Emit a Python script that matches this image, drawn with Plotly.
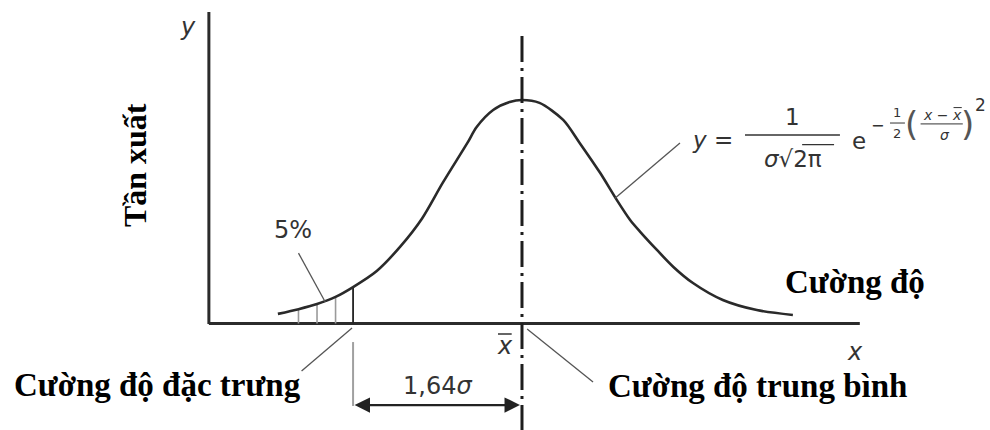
import numpy as np
import plotly.graph_objects as go

# Frequency curve of concrete strength: x measured from the mean in units of sigma,
# y is the relative frequency (peak = 1)
strength = [-2.37, -2.17, -1.99, -1.81, -1.64, -1.41, -1.18, -0.97, -0.77, -0.53,
            -0.44, -0.28, -0.12, 0.0, 0.17, 0.40, 0.56, 0.76, 0.92, 1.05,
            1.15, 1.31, 1.47, 1.66, 1.95, 2.28, 2.63]
frequency = [0.043, 0.064, 0.087, 0.119, 0.163, 0.235, 0.345, 0.470, 0.629, 0.808,
             0.879, 0.955, 0.991, 1.0, 0.987, 0.911, 0.808, 0.673, 0.553, 0.463,
             0.409, 0.329, 0.253, 0.181, 0.105, 0.060, 0.038]

# Hatched 5 % tail below the characteristic strength
hatch_x = [-2.17, -1.99, -1.81, -1.64]
char_strength = -1.64          # mean - 1.64 sigma
mean_strength = 0.0

# Axis extents of the drawing
x_axis_start, x_axis_end = -3.04, 3.28
y_axis_top = 1.394

INK = "#262626"
GREY = "#555555"
SANS = "DejaVu Sans, Verdana, sans-serif"
SERIF = "Liberation Serif, Times New Roman, serif"

fig = go.Figure()

def seg(x, y, color=INK, width=1.2, dash=None):
    fig.add_trace(go.Scatter(x=x, y=y, mode="lines", hoverinfo="skip",
                             line=dict(color=color, width=width, dash=dash)))

# axes
seg([x_axis_start, x_axis_start], [-0.002, y_axis_top], color="#2b2b2b", width=3)
seg([x_axis_start, x_axis_end], [0, 0], color="#2b2b2b", width=3)

# hatch lines under the tail
for i, hx in enumerate(hatch_x):
    h = float(np.interp(hx, strength, frequency))
    last = i == len(hatch_x) - 1
    seg([hx, hx], [0, h], color="#222222" if last else "#9a9a9a", width=1.8 if last else 1.6)

# distribution curve
fig.add_trace(go.Scatter(x=strength, y=frequency, mode="lines", hoverinfo="skip",
                         line=dict(color="#2a2a2a", width=2.6, shape="spline", smoothing=0.8)))

# mean line (dash-dot)
seg([mean_strength, mean_strength], [1.286, -0.48], color="#1e1e1e", width=3,
    dash="26px,6px,3px,6px")

# leader lines
seg([-2.17, -1.91], [0.315, 0.096], color=GREY, width=1.3)          # 5%
seg([-2.14, -1.65], [-0.213, -0.020], color=GREY, width=1.3)        # characteristic
seg([0.05, 0.69], [-0.025, -0.262], color=GREY, width=1.3)          # mean
seg([0.903, 1.534], [0.56, 0.808], color=GREY, width=1.3)           # formula
# extension line at characteristic strength
seg([char_strength, char_strength], [-0.083, -0.369], color="#a0a0a0", width=2)

ann = []

def txt(x, y, s, size, font=SANS, color="#333333", xa="center", ya="middle", angle=0):
    ann.append(dict(x=x, y=y, xref="x", yref="y", text=s, showarrow=False,
                    xanchor=xa, yanchor=ya, textangle=angle,
                    font=dict(family=font, size=size, color=color)))

# dimension arrow mean - characteristic
ann.append(dict(x=mean_strength - 0.02, y=-0.365, ax=char_strength, ay=-0.365,
                xref="x", yref="y", axref="x", ayref="y", text="", showarrow=True,
                arrowhead=2, startarrowhead=2, arrowside="end+start",
                arrowsize=1.4, startarrowsize=1.4, arrowwidth=2.2, arrowcolor="#222222",
                standoff=0, startstandoff=0))

txt(-0.82, -0.28, "1,64<i>σ</i>", 24)
txt(-0.165, -0.10, "<i>x</i>", 24)
txt(3.23, -0.127, "<i>x</i>", 24)
txt(-3.24, 1.327, "<i>y</i>", 24)
txt(-2.22, 0.418, "5%", 24)

# Vietnamese labels
txt(-3.757, 0.709, "<b>Tần xuất</b>", 32, font=SERIF, color="#000000", angle=-90)
txt(-4.95, -0.275, "<b>Cường độ đặc trưng</b>", 33, font=SERIF, color="#000000", xa="left")
txt(0.82, -0.28, "<b>Cường độ trung bình</b>", 33, font=SERIF, color="#000000", xa="left")
txt(2.53, 0.185, "<b>Cường độ</b>", 33, font=SERIF, color="#000000", xa="left")

# formula y = 1/(σ√2π) · e^(-1/2((x - x̄)/σ)^2)
txt(1.631, 0.821, "<i>y</i> =", 23, xa="left")
txt(2.631, 0.922, "1", 23)
txt(2.631, 0.735, "<i>σ</i>√2π", 23)
txt(3.272, 0.818, "e", 23)
txt(3.456, 0.888, "−", 16)
txt(3.641, 0.945, "1", 13)
txt(3.641, 0.850, "2", 13)
txt(3.786, 0.893, "(", 34, color="#555555")
txt(4.087, 0.933, "<i>x</i> − <i>x</i>", 14)
txt(4.107, 0.843, "<i>σ</i>", 14)
txt(4.330, 0.893, ")", 34, color="#555555")
txt(4.447, 0.978, "2", 17)

shapes = [
    dict(type="line", xref="x", yref="y", x0=2.165, x1=3.087, y0=0.843, y1=0.843,
         line=dict(color="#333333", width=1.5)),                      # main fraction bar
    dict(type="line", xref="x", yref="y", x0=2.72, x1=3.03, y0=0.80, y1=0.80,
         line=dict(color="#333333", width=1.2)),                      # radical bar
    dict(type="line", xref="x", yref="y", x0=3.573, x1=3.718, y0=0.897, y1=0.897,
         line=dict(color="#333333", width=1)),                        # 1/2 bar
    dict(type="line", xref="x", yref="y", x0=3.87, x1=4.28, y0=0.893, y1=0.893,
         line=dict(color="#333333", width=1)),                        # (x-x̄)/σ bar
    dict(type="line", xref="x", yref="y", x0=4.19, x1=4.27, y0=0.966, y1=0.966,
         line=dict(color="#333333", width=1)),                        # bar over x̄ (exponent)
    dict(type="line", xref="x", yref="y", x0=-0.233, x1=-0.10, y0=-0.047, y1=-0.047,
         line=dict(color="#333333", width=1.5)),                      # bar over x̄
]

fig.update_layout(
    width=990, height=430,
    margin=dict(l=0, r=0, t=0, b=0),
    paper_bgcolor="white", plot_bgcolor="white",
    showlegend=False,
    xaxis=dict(range=[-5.068, 4.544], visible=False, fixedrange=True),
    yaxis=dict(range=[-0.4765, 1.4474], visible=False, fixedrange=True),
    annotations=ann, shapes=shapes,
)

fig.write_html("out.html")
